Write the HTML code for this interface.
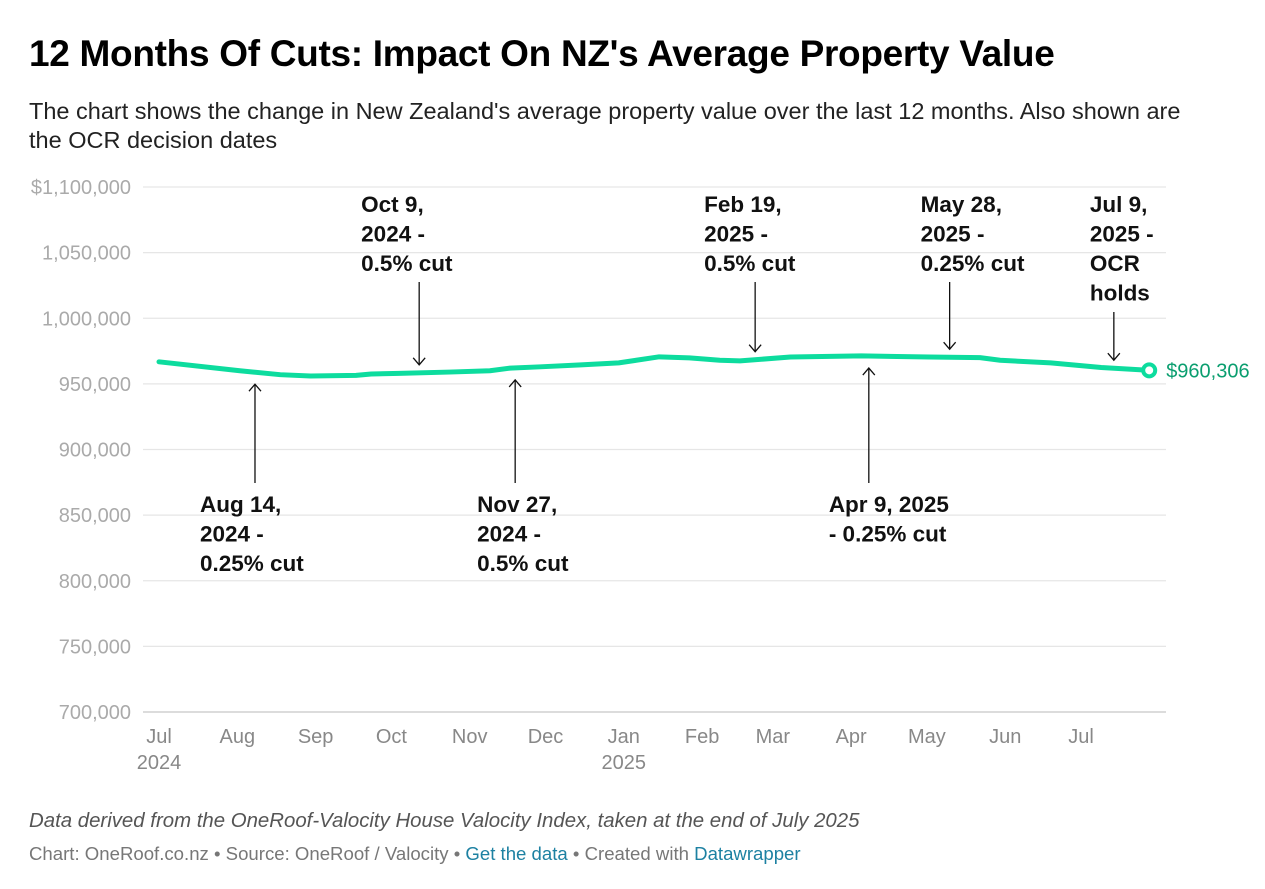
<!DOCTYPE html>
<html><head><meta charset="utf-8"><style>
body{margin:0;background:#fff;font-family:"Liberation Sans",sans-serif;}
#wrap{position:relative;width:1265px;height:889px;overflow:hidden}
h1{position:absolute;left:29px;top:33px;margin:0;font-size:37px;font-weight:bold;color:#000;letter-spacing:-0.3px}
.sub{position:absolute;left:29px;top:97px;width:1165px;font-size:23.5px;line-height:29px;color:#222}
.note{position:absolute;left:29px;top:810px;font-size:20.4px;font-style:italic;color:#555}
.src{position:absolute;left:29px;top:843px;font-size:18.6px;color:#777}
.src a{color:#1d81a2;text-decoration:none}
svg{position:absolute;left:0;top:0}
</style></head><body><div id="wrap">
<h1>12 Months Of Cuts: Impact On NZ's Average Property Value</h1>
<div class="sub">The chart shows the change in New Zealand's average property value over the last 12 months. Also shown are the OCR decision dates</div>
<svg id="chart" width="1265" height="889"></svg>
<div class="note">Data derived from the OneRoof-Valocity House Valocity Index, taken at the end of July 2025</div>
<div class="src">Chart: OneRoof.co.nz • Source: OneRoof / Valocity • <a>Get the data</a> • Created with <a>Datawrapper</a></div>
</div>
<script>
const days=[0,32,48,60,78,84,95,115,131,139,151,167,182,198,210,222,230,250,278,305,325,333,353,373,392];
const values=[966.8,960,957,956,956.5,957.5,958,959,960,962,963,964.5,966,970.6,969.8,968,967.5,970.5,971.3,970.5,970,968,966,962.5,960.306];
const yTicks=[700000,750000,800000,850000,900000,950000,1000000,1050000,1100000];
const yTickLabels=["700,000","750,000","800,000","850,000","900,000","950,000","1,000,000","1,050,000","$1,100,000"];
const monthDays=[0,31,62,92,123,153,184,215,243,274,304,335,365];
const monthLabels=["Jul","Aug","Sep","Oct","Nov","Dec","Jan","Feb","Mar","Apr","May","Jun","Jul"];
const annDays=[38,103,141,236,281,313,378];
const annDir=["up","down","up","down","up","down","down"];
const annText=[["Aug 14,","2024 -","0.25% cut"],["Oct 9,","2024 -","0.5% cut"],["Nov 27,","2024 -","0.5% cut"],["Feb 19,","2025 -","0.5% cut"],["Apr 9, 2025","- 0.25% cut"],["May 28,","2025 -","0.25% cut"],["Jul 9,","2025 -","OCR","holds"]];
const annTextDx=[-55,-58,-38,-51,-40,-29,-24];

const NS="http://www.w3.org/2000/svg";
const svg=document.getElementById('chart');
const x=d=>159+d*(1081-159)/365;
const y=v=>712-(v-700000)*(525/400000);
function mk(t,a,p){const e=document.createElementNS(NS,t);for(const k in a)e.setAttribute(k,a[k]);(p||svg).appendChild(e);return e;}
yTicks.forEach((t,i)=>{
 const l=mk('line',{x1:143,x2:1166,y1:y(t),y2:y(t),stroke:i==0?'#c8c8c8':'#e6e6e6','stroke-width':1.3});
 
 
 const tx=mk('text',{x:131,y:y(t)+7,'text-anchor':'end','font-size':20,fill:'#aaa'});
 tx.textContent=yTickLabels[i];
 
 
});
monthDays.forEach((d,i)=>{
 const tx=mk('text',{x:x(d),y:743,'text-anchor':'middle','font-size':20,fill:'#888'});
 tx.textContent=monthLabels[i];
 
 
 if(i==0||i==6){const t2=mk('text',{x:x(d),y:769,'text-anchor':'middle','font-size':20,fill:'#888'});t2.textContent=i==0?'2024':'2025';
 
 }
});
function valAt(d){for(let i=1;i<days.length;i++){if(d<=days[i]){const f=(d-days[i-1])/(days[i]-days[i-1]);return values[i-1]+f*(values[i]-values[i-1]);}}return values[values.length-1];}
const pts=days.map((d,i)=>x(d)+','+y(values[i]*1000)).join(' ');
const line=mk('polyline',{points:pts,fill:'none',stroke:'#0ddc9e','stroke-width':5,'stroke-linejoin':'round','stroke-linecap':'round'});


const last=days.length-1;
const dot=mk('circle',{cx:x(days[last]),cy:y(values[last]*1000),r:6,fill:'#fff',stroke:'#0ddc9e','stroke-width':4});


const lab=mk('text',{x:x(days[last])+17,y:y(values[last]*1000)+7,'font-size':20,fill:'#0a9e6f'});
lab.textContent='$'+Math.round(values[last]*1000).toLocaleString('en-US');


annDays.forEach((d,i)=>{
 const ax=x(d),ly=y(valAt(d)*1000);
 const g=mk('g',{});
 
 
 let y1,y2;
 if(annDir[i]=='up'){y1=483;y2=ly+12;}else{y1=i==6?312:282;y2=ly-8;}
 mk('line',{x1:ax,x2:ax,y1:y1,y2:y2,stroke:'#111','stroke-width':1.3},g);
 const s=annDir[i]=='up'?1:-1;
 mk('polyline',{points:`${ax-6},${y2+7*s} ${ax},${y2} ${ax+6},${y2+7*s}`,fill:'none',stroke:'#111','stroke-width':1.3},g);
 const lines=annText[i];
 const top=annDir[i]=='up'?512:212;
 lines.forEach((t,j)=>{const tx=mk('text',{x:ax+annTextDx[i],y:top+j*29.5,'font-size':22.5,'font-weight':'bold',fill:'#111'},g);tx.textContent=t;});
});
</script></body></html>
